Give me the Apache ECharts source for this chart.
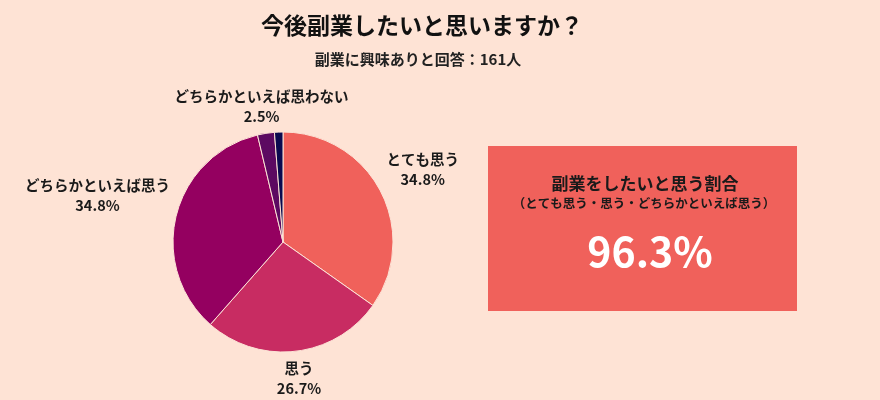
<!DOCTYPE html>
<html><head><meta charset="utf-8">
<script src="https://cdn.jsdelivr.net/npm/echarts@6/dist/echarts.min.js"></script>
<style>html,body{margin:0;padding:0;background:#fee3d5;}#c{width:880px;height:400px;}</style>
</head><body><div id="c"></div>
<script>
const titleText = '今後副業したいと思いますか？';
const subtitleText = '副業に興味ありと回答：161人';
const categories = ['とても思う', '思う', 'どちらかといえば思う', 'どちらかといえば思わない', '思わない'];
const counts = [56, 43, 56, 4, 2];
const showLabel = [true, true, true, true, false];
const colors = ['#f0615b', '#c82c62', '#940060', '#5c0a61', '#0b0a4f'];
const positiveCats = [0, 1, 2];
const boxTitle = '副業をしたいと思う割合';
const boxSub = '（とても思う・思う・どちらかといえば思う）';

const FONT = '"Noto Sans CJK JP", "Noto Sans", sans-serif';
const total = counts.reduce((a, b) => a + b, 0);
const posShare = positiveCats.reduce((a, i) => a + counts[i], 0) / total * 100;

const CX = 283, CY = 242, R = 110, GAP = 116;
const mids = [];
let acc = 0;
counts.forEach(v => { mids.push((acc + v / 2) / total * 2 * Math.PI); acc += v; });

// distance from pie centre to nearest point of a box of half-size (w,h) centred at d*u
function nearest(d, ux, uy, w, h) {
  const bx = d * ux, by = d * uy;
  const qx = Math.max(Math.abs(bx) - w, 0) , qy = Math.max(Math.abs(by) - h, 0);
  return Math.hypot(qx, qy);
}

const chart = echarts.init(document.getElementById('c'));
chart.setOption({
  backgroundColor: '#fee3d5',
  title: [
    { text: titleText, left: 417, top: 9, textAlign: 'center',
      textStyle: { fontFamily: FONT, fontSize: 23, fontWeight: 'bold', color: '#111' } },
    { text: subtitleText, left: 413, top: 47, textAlign: 'center',
      textStyle: { fontFamily: FONT, fontSize: 15, fontWeight: 'bold', color: '#222' } }
  ],
  graphic: [
    { type: 'rect', shape: { x: 488, y: 146, width: 309, height: 165 }, style: { fill: '#f0615b' }, silent: true },
    { type: 'text', style: { x: 645, y: 184, text: boxTitle, textAlign: 'center', textVerticalAlign: 'middle',
        font: 'bold 17px ' + FONT, fill: '#1a1a1a' } },
    { type: 'text', style: { x: 644, y: 203, text: boxSub, textAlign: 'center', textVerticalAlign: 'middle',
        font: 'bold 12.5px ' + FONT, fill: '#1a1a1a' } },
    { type: 'text', style: { x: 650, y: 251, text: posShare.toFixed(1) + '%', textAlign: 'center', textVerticalAlign: 'middle',
        font: 'bold 41px ' + FONT, fill: '#ffffff' } }
  ],
  series: [{
    type: 'pie',
    center: [CX, CY],
    radius: R,
    startAngle: 90,
    clockwise: true,
    percentPrecision: 1,
    animation: false,
    itemStyle: { borderColor: '#fde3d6', borderWidth: 1 },
    label: {
      show: true, position: 'outside', overflow: 'none',
      fontFamily: FONT, fontSize: 14.5, fontWeight: 'bold', color: '#1a1a1a',
      lineHeight: 20, align: 'center',
      formatter: p => p.name + '\n' + p.percent.toFixed(1) + '%'
    },
    labelLine: { show: false },
    labelLayout: p => {
      const a = mids[p.dataIndex];
      const ux = Math.sin(a), uy = -Math.cos(a);
      const w = p.labelRect.width / 2, h = p.labelRect.height / 2;
      let lo = 0, hi = 400;
      for (let k = 0; k < 40; k++) {
        const m = (lo + hi) / 2;
        if (nearest(m, ux, uy, w, h) < GAP) lo = m; else hi = m;
      }
      return { x: CX + ux * hi, y: CY + uy * hi, align: 'center', verticalAlign: 'middle' };
    },
    data: categories.map((c, i) => ({
      name: c, value: counts[i],
      itemStyle: { color: colors[i] },
      label: { show: showLabel[i] }
    }))
  }]
});
</script></body></html>
